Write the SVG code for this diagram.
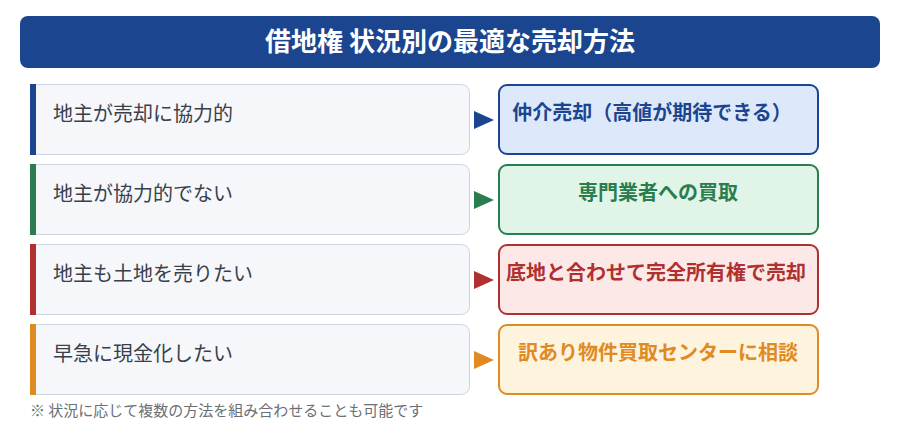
<svg xmlns="http://www.w3.org/2000/svg" width="900" height="430" viewBox="0 0 900 430">
<style>
text{font-family:"Noto Sans CJK JP","Noto Sans",sans-serif}
.title{font-size:26px;font-weight:700;fill:#fff}
.cond{fill:#f5f7fb;stroke:#cbd5e1;stroke-width:1}
.ctext{font-size:20px;fill:#3a3f4a}
.rtext{font-size:20px;font-weight:700;text-anchor:middle}
.note{font-size:15px;fill:#6b6f76}
</style>
<rect width="900" height="430" fill="#ffffff"/>
<g id="header">
<rect x="20" y="16" width="860" height="52" rx="8" fill="#1b458f"/>
<text class="title" x="450" y="51" text-anchor="middle">借地権 状況別の最適な売却方法</text>
</g>
<g id="cond1">
<rect class="cond" x="30.5" y="84.5" width="439" height="70" rx="8"/>
<rect x="30" y="84" width="6" height="71" fill="#1b458f"/>
<text class="ctext" x="53" y="121">地主が売却に協力的</text>
</g>
<g id="cond2">
<rect class="cond" x="30.5" y="164.5" width="439" height="70" rx="8"/>
<rect x="30" y="164" width="6" height="71" fill="#2a7d4f"/>
<text class="ctext" x="53" y="201">地主が協力的でない</text>
</g>
<g id="cond3">
<rect class="cond" x="30.5" y="244.5" width="439" height="70" rx="8"/>
<rect x="30" y="244" width="6" height="71" fill="#b0302f"/>
<text class="ctext" x="53" y="281">地主も土地を売りたい</text>
</g>
<g id="cond4">
<rect class="cond" x="30.5" y="324.5" width="439" height="70" rx="8"/>
<rect x="30" y="324" width="6" height="71" fill="#df8a22"/>
<text class="ctext" x="53" y="361">早急に現金化したい</text>
</g>
<g id="connectors">
<polygon points="474,111 494,120 474,129" fill="#1b458f"/>
<polygon points="474,191 494,200 474,209" fill="#2a7d4f"/>
<polygon points="474,271 494,280 474,289" fill="#b0302f"/>
<polygon points="474,351 494,360 474,369" fill="#df8a22"/>
</g>
<g id="res1">
<rect x="499" y="85" width="319" height="69" rx="8" fill="#dde9fb" stroke="#1b458f" stroke-width="2"/>
<text class="rtext" x="652" y="120" fill="#1b458f">仲介売却（高値が期待できる）</text>
</g>
<g id="res2">
<rect x="499" y="165" width="319" height="69" rx="8" fill="#e0f5e7" stroke="#2a7d4f" stroke-width="2"/>
<text class="rtext" x="658" y="200" fill="#2a7d4f">専門業者への買取</text>
</g>
<g id="res3">
<rect x="499" y="245" width="319" height="69" rx="8" fill="#fde8e8" stroke="#b0302f" stroke-width="2"/>
<text class="rtext" x="656" y="280" fill="#b0302f">底地と合わせて完全所有権で売却</text>
</g>
<g id="res4">
<rect x="499" y="325" width="319" height="69" rx="8" fill="#fef3dd" stroke="#df8a22" stroke-width="2"/>
<text class="rtext" x="658" y="360" fill="#df8a22">訳あり物件買取センターに相談</text>
</g>
<g id="note">
<text class="note" x="30" y="416">※ 状況に応じて複数の方法を組み合わせることも可能です</text>
</g>
</svg>
